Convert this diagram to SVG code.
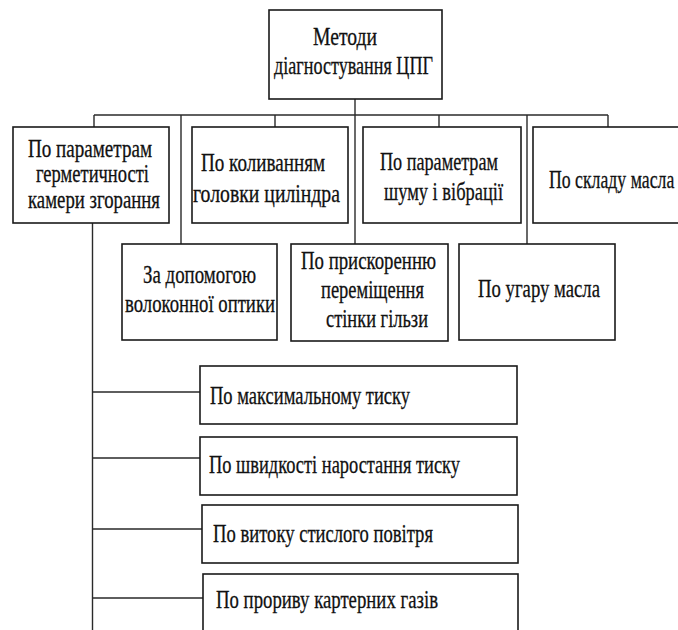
<svg xmlns="http://www.w3.org/2000/svg" width="678" height="630" viewBox="0 0 678 630">
<style>
.box{fill:#fff;stroke:#1a1a1a;stroke-width:1.6}
.ln{fill:none;stroke:#2a2a2a;stroke-width:1.4}
</style>
<rect width="678" height="630" fill="#fff"/>
<g id="connectors">
<path class="ln" d="M355,99 V244"/>
<path class="ln" d="M94,115 H608"/>
<path class="ln" d="M94,115 V127 M181,115 V244 M275,115 V127 M439,115 V127 M527,115 V244 M608,115 V127"/>
<path class="ln" d="M92.5,223 V630"/>
<path class="ln" d="M92.5,392 H200 M92.5,458 H200 M92.5,529 H202 M92.5,598 H203"/>
</g>
<g font-family="'Liberation Serif', 'Times New Roman', serif" font-size="25" fill="#111" stroke="#111" stroke-width="0.3">
<g id="n-root">
<rect class="box" x="269" y="10" width="173" height="89"/>
<text x="313" y="45" textLength="64" lengthAdjust="spacingAndGlyphs">Методи</text>
<text x="274" y="74" textLength="159" lengthAdjust="spacingAndGlyphs">діагностування ЦПГ</text>
</g>
<g id="n-hermetic">
<rect class="box" x="13" y="127" width="156" height="96"/>
<text x="28" y="157" textLength="124" lengthAdjust="spacingAndGlyphs">По параметрам</text>
<text x="36" y="182" textLength="113" lengthAdjust="spacingAndGlyphs">герметичності</text>
<text x="28" y="208" textLength="132" lengthAdjust="spacingAndGlyphs">камери згорання</text>
</g>
<g id="n-head">
<rect class="box" x="192" y="127" width="156" height="96"/>
<text x="201" y="171" textLength="124" lengthAdjust="spacingAndGlyphs">По коливанням</text>
<text x="193" y="202" textLength="147" lengthAdjust="spacingAndGlyphs">головки циліндра</text>
</g>
<g id="n-noise">
<rect class="box" x="363" y="127" width="158" height="96"/>
<text x="380" y="170" textLength="118" lengthAdjust="spacingAndGlyphs">По параметрам</text>
<text x="384" y="200" textLength="119" lengthAdjust="spacingAndGlyphs">шуму і вібрації</text>
</g>
<g id="n-oilcomp">
<rect class="box" x="533" y="127" width="160" height="96"/>
<g transform="translate(549,188) scale(0.71,1)">
<text x="0" y="0">По складу масла</text>
</g>
</g>
<g id="n-fiber">
<rect class="box" x="122" y="244" width="155" height="96"/>
<text x="143" y="283" textLength="113" lengthAdjust="spacingAndGlyphs">За допомогою</text>
<text x="125" y="312" textLength="150" lengthAdjust="spacingAndGlyphs">волоконної оптики</text>
</g>
<g id="n-accel">
<rect class="box" x="291" y="244" width="157" height="97"/>
<text x="301" y="269" textLength="135" lengthAdjust="spacingAndGlyphs">По прискоренню</text>
<text x="321" y="298" textLength="103" lengthAdjust="spacingAndGlyphs">переміщення</text>
<text x="326" y="327" textLength="102" lengthAdjust="spacingAndGlyphs">стінки гільзи</text>
</g>
<g id="n-oilburn">
<rect class="box" x="459" y="244" width="156" height="96"/>
<text x="478" y="297" textLength="122" lengthAdjust="spacingAndGlyphs">По угару масла</text>
</g>
<g id="n-maxp">
<rect class="box" x="200" y="366" width="317" height="58"/>
<text x="210" y="404" textLength="200" lengthAdjust="spacingAndGlyphs">По максимальному тиску</text>
</g>
<g id="n-rate">
<rect class="box" x="200" y="437" width="317" height="58"/>
<text x="209" y="473" textLength="251" lengthAdjust="spacingAndGlyphs">По швидкості наростання тиску</text>
</g>
<g id="n-leak">
<rect class="box" x="202" y="505" width="316" height="58"/>
<text x="213" y="542" textLength="220" lengthAdjust="spacingAndGlyphs">По витоку стислого повітря</text>
</g>
<g id="n-blowby">
<rect class="box" x="203" y="574" width="315" height="70"/>
<text x="216" y="608" textLength="222" lengthAdjust="spacingAndGlyphs">По прориву картерних газів</text>
</g>
</g>
</svg>
